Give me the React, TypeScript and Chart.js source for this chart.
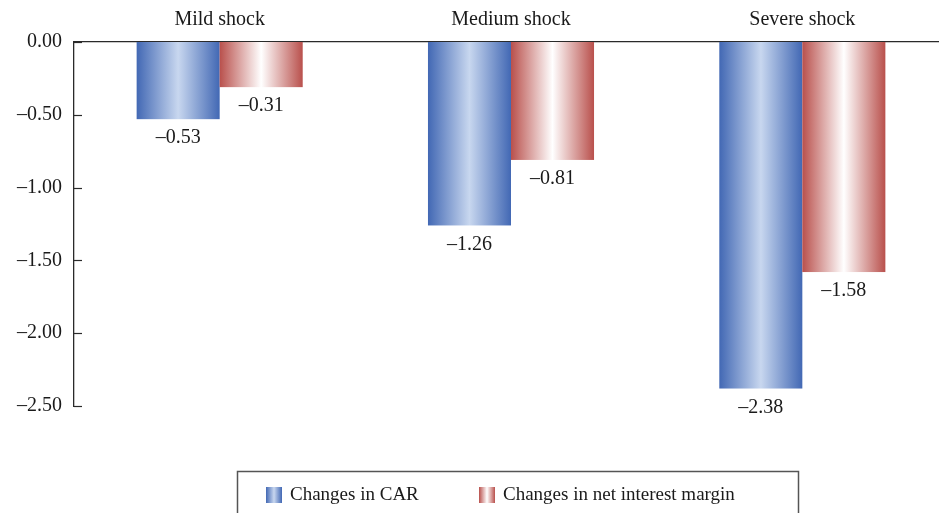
import React, { useEffect, useRef } from "react";
import { Chart, registerables } from "chart.js";

Chart.register(...registerables);

const categories = ["Mild shock", "Medium shock", "Severe shock"];
const carChanges = [-0.53, -1.26, -2.38];
const nimChanges = [-0.31, -0.81, -1.58];
const seriesNames = ["Changes in CAR", "Changes in net interest margin"];
const yTickValues = [0, -0.5, -1.0, -1.5, -2.0, -2.5];

const FONT = "'Liberation Serif', 'Times New Roman', serif";
const TEXT = "#1a1a1a";
const AXIS = "#2a2a2a";
const grads = [
  { edge: "#4268b4", mid: "#c8d7ef" },
  { edge: "#b9504c", mid: "#ffffff" },
];

const fmt = (v: number) => {
  const s = Math.abs(v).toFixed(2);
  return v < 0 ? "\u2013" + s : s;
};

function makeGrad(ctx: CanvasRenderingContext2D, left: number, width: number, g: { edge: string; mid: string }) {
  const gr = ctx.createLinearGradient(left, 0, left + width, 0);
  gr.addColorStop(0, g.edge);
  gr.addColorStop(0.5, g.mid);
  gr.addColorStop(1, g.edge);
  return gr;
}

const customPlugin = {
  id: "customDraw",
  afterDatasetsDraw(chart: any) {
    const ctx: CanvasRenderingContext2D = chart.ctx;
    ctx.save();
    chart.data.datasets.forEach((ds: any, di: number) => {
      const meta = chart.getDatasetMeta(di);
      meta.data.forEach((el: any, i: number) => {
        const { x, y, base, width } = el.getProps(["x", "y", "base", "width"], true);
        const left = x - width / 2;
        ctx.fillStyle = makeGrad(ctx, left, width, grads[di]);
        ctx.fillRect(left, Math.min(y, base), width, Math.abs(base - y));
        // value label
        ctx.fillStyle = TEXT;
        ctx.font = `20px ${FONT}`;
        ctx.textAlign = "center";
        ctx.textBaseline = "middle";
        ctx.fillText(fmt(ds.data[i]), x, Math.max(y, base) + 19);
      });
    });
    ctx.restore();
  },
  afterDraw(chart: any) {
    const ctx: CanvasRenderingContext2D = chart.ctx;
    const ys = chart.scales.y;
    const area = chart.chartArea;
    ctx.save();
    // inward tick marks
    ctx.strokeStyle = AXIS;
    ctx.lineWidth = 1.2;
    ys.ticks.forEach((_t: any, i: number) => {
      const py = Math.round(ys.getPixelForTick(i)) + 0.5;
      ctx.beginPath();
      ctx.moveTo(area.left, py);
      ctx.lineTo(area.left + 8, py);
      ctx.stroke();
    });
    // legend box
    ctx.strokeStyle = "#555555";
    ctx.lineWidth = 1.5;
    ctx.strokeRect(237.5, 471.5, 561, 60);
    const items = [
      { x: 266, tx: 290 },
      { x: 479, tx: 503 },
    ];
    items.forEach((it, di) => {
      ctx.fillStyle = makeGrad(ctx, it.x, 16, grads[di]);
      ctx.fillRect(it.x, 487, 16, 16);
      ctx.fillStyle = TEXT;
      ctx.font = `19px ${FONT}`;
      ctx.textAlign = "left";
      ctx.textBaseline = "middle";
      ctx.fillText(seriesNames[di], it.tx, 495);
    });
    ctx.restore();
  },
};

export default function App() {
  const ref = useRef<HTMLCanvasElement | null>(null);
  useEffect(() => {
    if (!ref.current) return;
    const chart = new Chart(ref.current, {
      type: "bar",
      data: {
        labels: categories,
        datasets: [
          { label: seriesNames[0], data: carChanges, backgroundColor: "rgba(0,0,0,0)" },
          { label: seriesNames[1], data: nimChanges, backgroundColor: "rgba(0,0,0,0)" },
        ],
      },
      options: {
        responsive: false,
        animation: false,
        devicePixelRatio: 1,
        layout: { padding: { top: 0, bottom: 107, left: 0, right: 0 } },
        datasets: { bar: { barPercentage: 1, categoryPercentage: 0.57 } },
        plugins: { legend: { display: false }, tooltip: { enabled: false } },
        scales: {
          x: {
            position: "top",
            grid: { display: false, drawTicks: false },
            border: { display: true, color: AXIS, width: 1.3 },
            ticks: { color: TEXT, font: { family: FONT, size: 20 }, padding: 10 },
            afterFit: (s: any) => {
              s.height = 42;
            },
          },
          y: {
            min: -2.5,
            max: 0,
            grid: { display: false, drawTicks: false },
            border: { display: true, color: AXIS, width: 1.3 },
            ticks: {
              color: TEXT,
              font: { family: FONT, size: 20 },
              padding: 12,
              callback: (v: any) => fmt(Number(v)),
            },
            afterBuildTicks: (s: any) => {
              s.ticks = yTickValues.map((v) => ({ value: v }));
            },
            afterFit: (s: any) => {
              s.width = 74;
            },
          },
        },
      },
      plugins: [customPlugin],
    });
    return () => chart.destroy();
  }, []);
  return (
    <div style={{ position: "absolute", left: 0, top: 0, width: 939, height: 513, overflow: "hidden", background: "#fff" }}>
      <canvas ref={ref} width={948} height={513} style={{ display: "block" }} />
    </div>
  );
}
